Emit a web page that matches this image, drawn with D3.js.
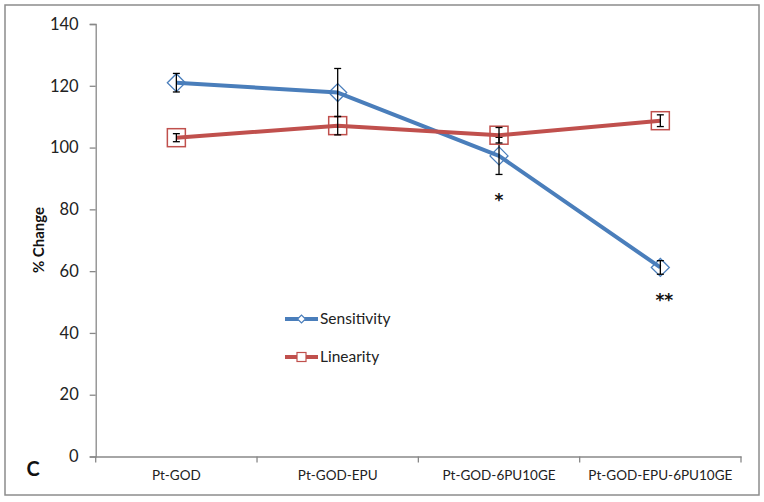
<!DOCTYPE html>
<html><head><meta charset="utf-8">
<script src="https://cdn.jsdelivr.net/npm/d3@7"></script>
<style>body{margin:0;background:#fff}svg{display:block}text{font-family:Lato,"Open Sans",sans-serif}</style>
</head><body>
<svg id="c" width="764" height="502"></svg>
<script>
const categories = ["Pt-GOD","Pt-GOD-EPU","Pt-GOD-6PU10GE","Pt-GOD-EPU-6PU10GE"];
const sensitivity = [121.0, 117.8, 97.3, 61.2];
const sensitivityErr = [3.0, 7.8, 6.0, 2.2];
const linearity = [103.2, 107.1, 104.0, 108.7];
const linearityErr = [1.3, 3.0, 2.5, 1.9];
const yTicks = [0,20,40,60,80,100,120,140];
const significance = ["", "", "*", "**"];

const svg = d3.select("#c");
const L = 95.7, R = 741, T = 24, B = 456.5;
const x = d3.scaleBand().domain(categories).range([L, R]);
const y = d3.scaleLinear().domain([0,140]).range([B, T]);
const cx = c => x(c) + x.bandwidth()/2;

svg.append("rect").attr("x",5).attr("y",5).attr("width",754).attr("height",490)
  .attr("fill","#fff").attr("stroke","#8c8c8c").attr("stroke-width",1.5);

// y axis
const ya = svg.append("g").attr("transform",`translate(${L},0)`)
  .call(d3.axisLeft(y).tickValues(yTicks).tickSize(6).tickPadding(11));
ya.select(".domain").attr("stroke","#888").attr("stroke-width",1.3);
ya.selectAll(".tick line").attr("stroke","#888").attr("stroke-width",1.3);
ya.selectAll("text").attr("font-size",16.5).attr("fill","#222");

// x axis
const xa = svg.append("g").attr("transform",`translate(0,${B})`)
  .call(d3.axisBottom(x).tickSize(0).tickPadding(14));
xa.select(".domain").attr("stroke","#888").attr("stroke-width",1.3);
xa.selectAll("text").attr("font-size",13.5).attr("fill","#222");
const bounds = d3.range(categories.length+1).map(i => L + i*x.bandwidth());
xa.selectAll(".bt").data(bounds).enter().append("line").attr("class","bt")
  .attr("x1",d=>d).attr("x2",d=>d).attr("y1",0).attr("y2",6)
  .attr("stroke","#888").attr("stroke-width",1.3);

// y label
svg.append("text").attr("transform","translate(44,240) rotate(-90)")
  .attr("text-anchor","middle").attr("font-weight","bold").attr("font-size",15)
  .attr("fill","#111").text("% Change");
svg.append("text").attr("x",33).attr("y",476).attr("text-anchor","middle")
  .attr("font-weight","bold").attr("font-size",20).attr("fill","#111").text("C");

const blue = "#4a7ebb", red = "#c0504d";
const line = d3.line().x((d,i)=>cx(categories[i])).y(d=>y(d));

function series(vals, errs, color, marker){
  svg.append("path").datum(vals).attr("d",line).attr("fill","none")
    .attr("stroke",color).attr("stroke-width",4).attr("stroke-linejoin","round");
  const g = svg.append("g");
  vals.forEach((v,i)=>{
    const X = cx(categories[i]);
    if(marker==="diamond"){
      g.append("path").attr("d",`M${X-9},${y(v)} L${X},${y(v)-9} L${X+9},${y(v)} L${X},${y(v)+9} Z`)
        .attr("fill","none").attr("stroke",color).attr("stroke-width",1.3);
    } else {
      g.append("rect").attr("x",X-9).attr("y",y(v)-9).attr("width",18).attr("height",18)
        .attr("fill","none").attr("stroke",color).attr("stroke-width",1.5);
    }
  });
  vals.forEach((v,i)=>{
    const X = cx(categories[i]), e = errs[i];
    g.append("line").attr("x1",X).attr("x2",X).attr("y1",y(v+e)).attr("y2",y(v-e)).attr("stroke","#000").attr("stroke-width",1.3);
    [v+e, v-e].forEach(w => g.append("line").attr("x1",X-3.5).attr("x2",X+3.5).attr("y1",y(w)).attr("y2",y(w)).attr("stroke","#000").attr("stroke-width",1.3));
  });
}
series(sensitivity, sensitivityErr, blue, "diamond");
series(linearity, linearityErr, red, "square");

significance.forEach((s,i)=>{
  if(!s) return;
  svg.append("text").attr("x",cx(categories[i])+ (s.length>1?4:0)).attr("y",y(sensitivity[i]-sensitivityErr[i]) + 32)
    .attr("text-anchor","middle").attr("font-weight","bold").attr("font-size",17)
    .style("font-family","'DejaVu Sans',sans-serif").attr("fill","#111").text(s);
});

// legend
const leg = [["Sensitivity", blue, "diamond", 319],["Linearity", red, "square", 357]];
leg.forEach(([name,color,m,yy])=>{
  svg.append("line").attr("x1",285).attr("x2",318).attr("y1",yy).attr("y2",yy).attr("stroke",color).attr("stroke-width",4);
  const mx = 301.5;
  if(m==="diamond") svg.append("path").attr("d",`M${mx-4},${yy} L${mx},${yy-4} L${mx+4},${yy} L${mx},${yy+4} Z`).attr("fill","#fff").attr("stroke",color).attr("stroke-width",1.2);
  else svg.append("rect").attr("x",mx-4.5).attr("y",yy-4.5).attr("width",9).attr("height",9).attr("fill","#fff").attr("stroke",color).attr("stroke-width",1.2);
  svg.append("text").attr("x",320).attr("y",yy).attr("dy","0.35em").attr("font-size",15.5).attr("fill","#222").text(name);
});
</script>
</body></html>
